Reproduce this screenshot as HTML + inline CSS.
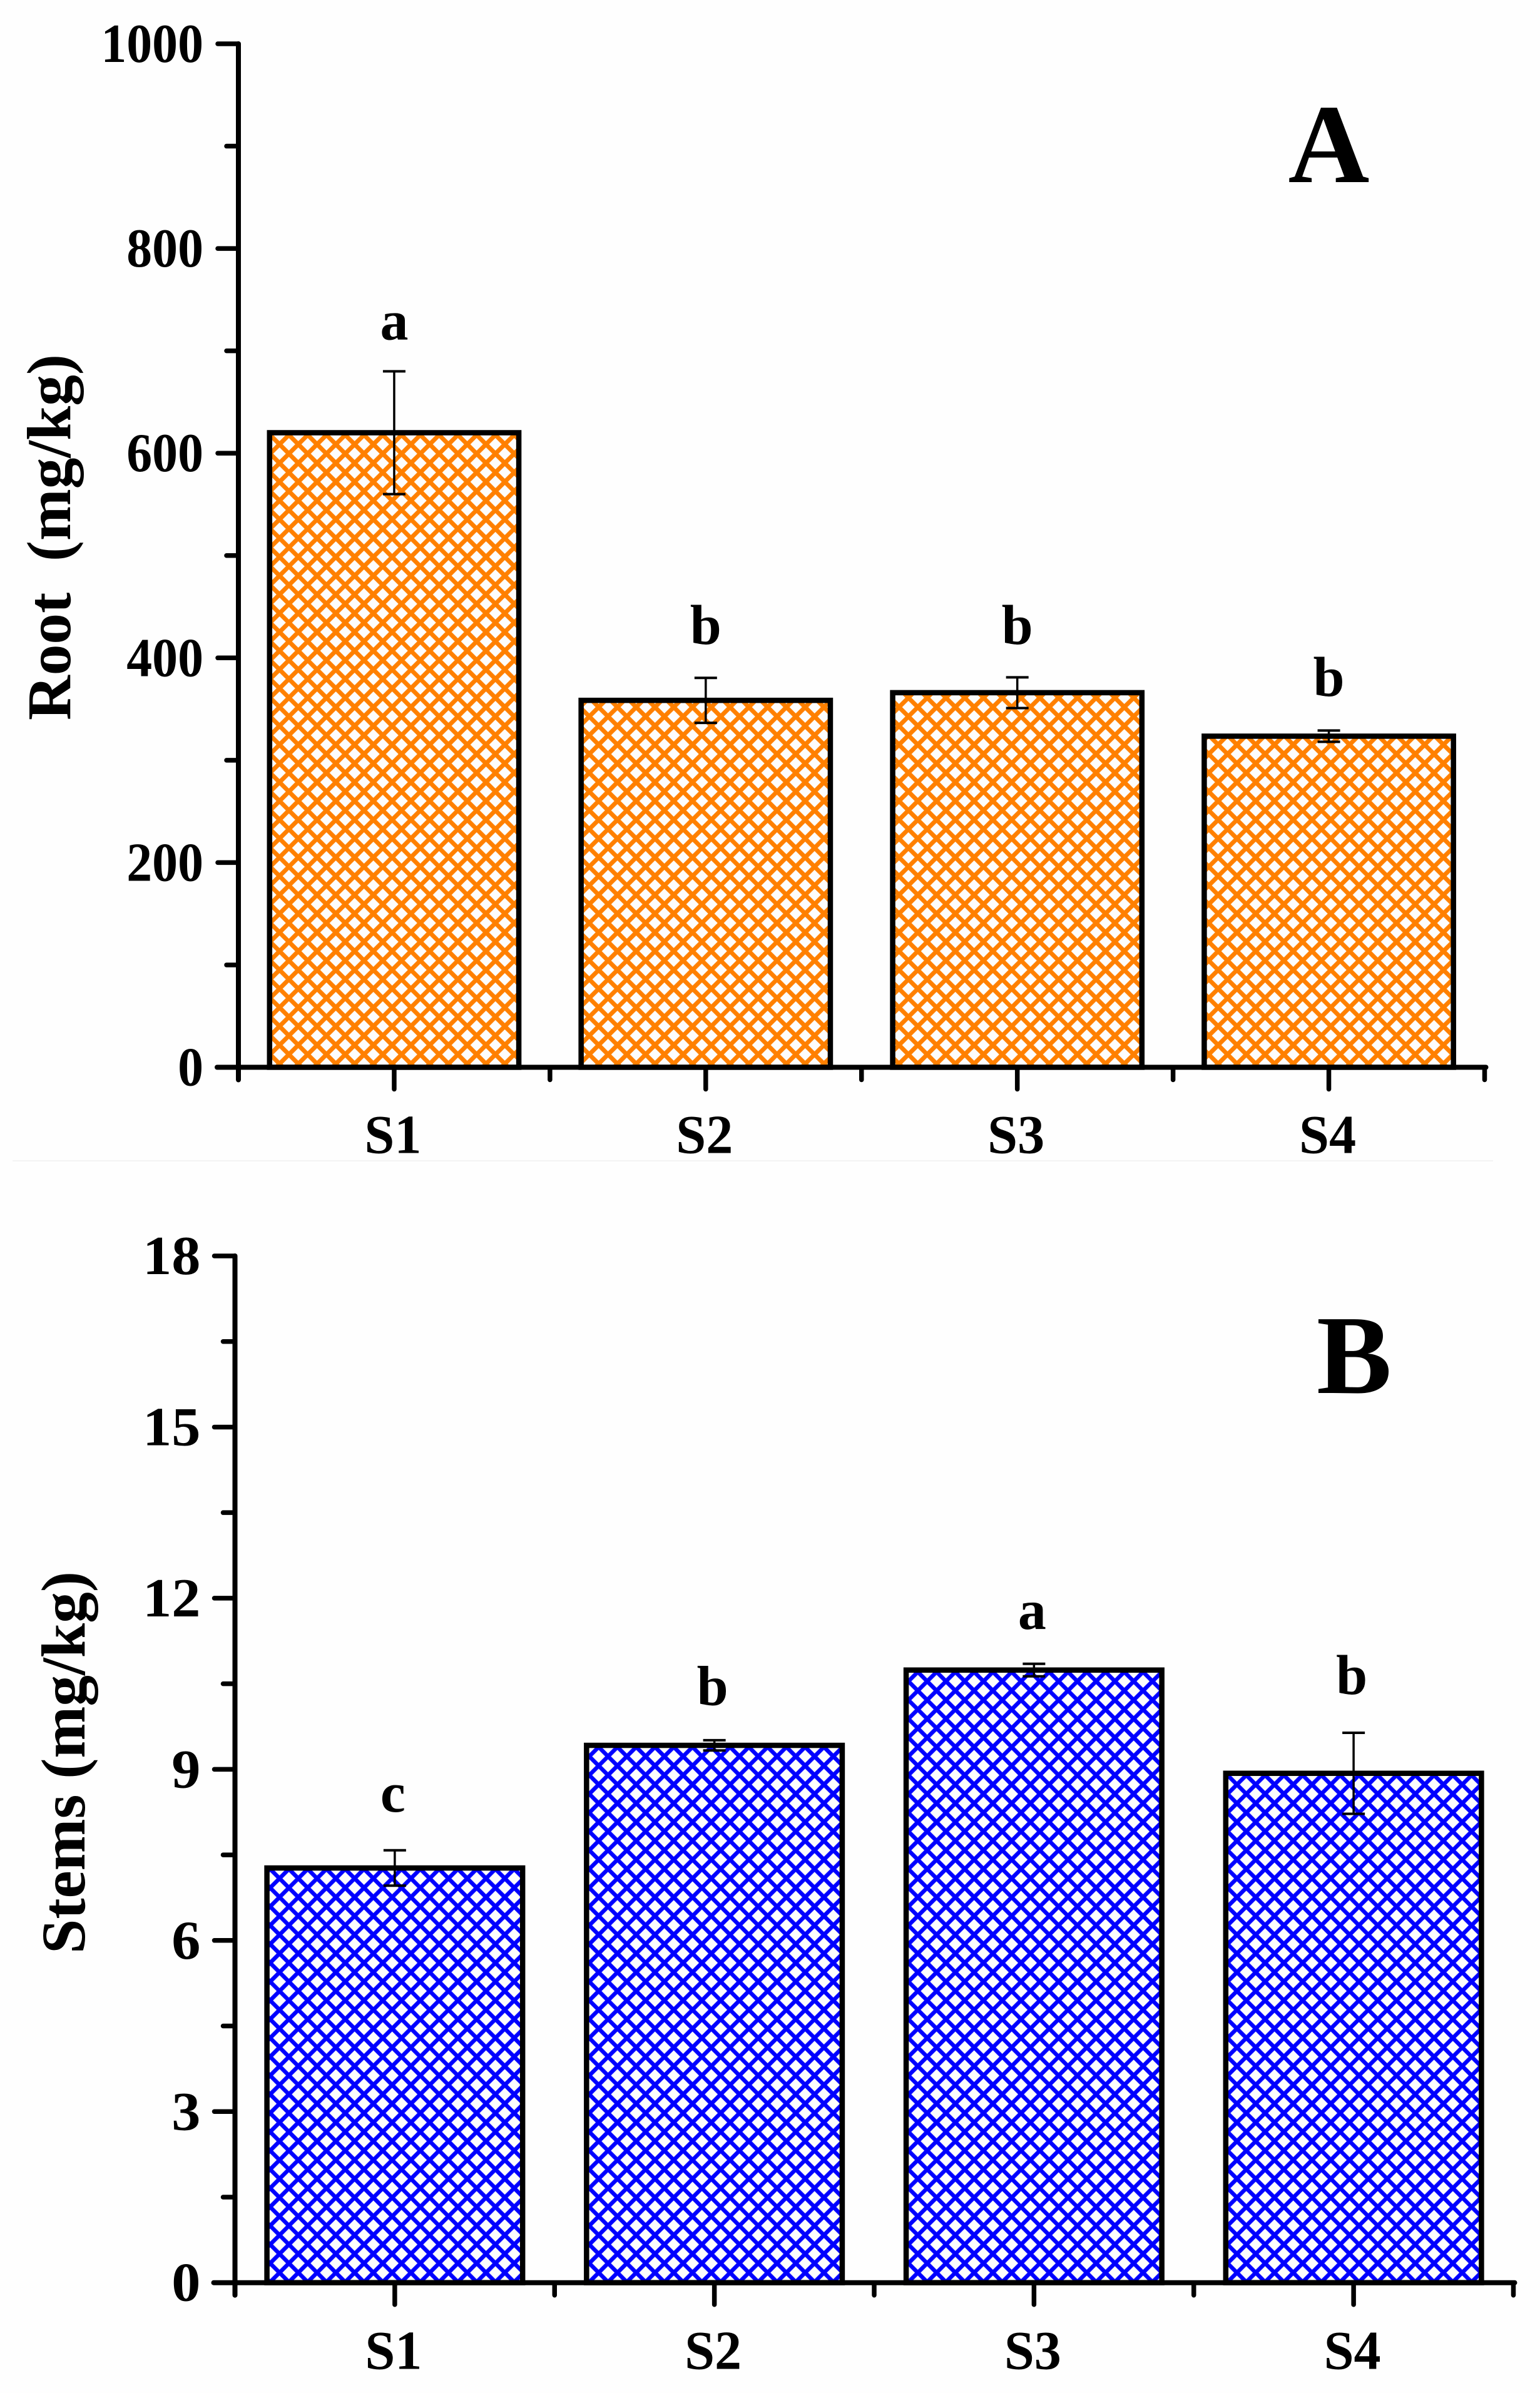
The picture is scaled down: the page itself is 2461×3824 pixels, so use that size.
<!DOCTYPE html>
<html lang="en">
<head>
<meta charset="utf-8">
<title>Root and stems concentration bar charts</title>
<style>
html,body{margin:0;padding:0;background:#fefefe}
svg{display:block}
text{font-family:"Liberation Serif",serif;font-weight:bold;fill:#000}
</style>
</head>
<body>
<svg id="figure" xmlns="http://www.w3.org/2000/svg" width="2461" height="3824" viewBox="0 0 2461 3824">
  <defs>
    <pattern id="hatch-orange" patternUnits="userSpaceOnUse" x="506.7" y="695" width="30" height="30">
      <rect width="30" height="30" fill="#fdfdfd"/>
      <path d="M-5 20L20 -5M10 35L35 10M-5 10L20 35M10 -5L35 20" stroke="#ff8000" stroke-width="7" fill="none"/>
    </pattern>
    <pattern id="hatch-blue" patternUnits="userSpaceOnUse" x="566.7" y="2986.7" width="30" height="30">
      <rect width="30" height="30" fill="#fdfdfd"/>
      <path d="M-5 20L20 -5M10 35L35 10M-5 10L20 35M10 -5L35 20" stroke="#0000ff" stroke-width="6.5" fill="none"/>
    </pattern>
  </defs>
  <rect width="2461" height="3824" fill="#fefefe"/>
  <rect x="20" y="1854" width="2366" height="2" fill="#f3f3f3"/>
  <g id="panel-a"></g>
  <g id="panel-b"></g>
</svg>
<script>
const categories = ['S1', 'S2', 'S3', 'S4'];

const rootValues = [620, 358.5, 366, 323.5];
const rootErrors = [60, 22, 15, 5.5];
const rootLetters = ['a', 'b', 'b', 'b'];
const rootLetterLevels = [711, 413.6, 413.6, 363];
const rootTicks = [0, 200, 400, 600, 800, 1000];
const rootTickLabels = ['0', '200', '400', '600', '800', '1000'];
const rootMinorTicks = [100, 300, 500, 700, 900];

const stemValues = [7.27, 9.42, 10.74, 8.93];
const stemErrors = [0.31, 0.09, 0.11, 0.71];
const stemLetters = ['c', 'b', 'a', 'b'];
const stemLetterLevels = [8.26, 10.13, 11.46, 10.32];
const stemTicks = [0, 3, 6, 9, 12, 15, 18];
const stemTickLabels = ['0', '3', '6', '9', '12', '15', '18'];
const stemMinorTicks = [1.5, 4.5, 7.5, 10.5, 13.5, 16.5];

const NS = 'http://www.w3.org/2000/svg';

function shape(parent, tag) {
  const el = document.createElementNS(NS, tag);
  parent.appendChild(el);
  return el;
}

function line(parent, x1, y1, x2, y2, width, cap) {
  const el = shape(parent, 'line');
  el.setAttribute('x1', x1);
  el.setAttribute('y1', y1);
  el.setAttribute('x2', x2);
  el.setAttribute('y2', y2);
  el.setAttribute('stroke', '#000');
  el.setAttribute('stroke-width', width);
  el.setAttribute('stroke-linecap', cap || 'round');
  return el;
}

function label(parent, str, x, y, size, anchor, sx) {
  const el = shape(parent, 'text');
  el.textContent = str;
  el.setAttribute('transform', 'translate(' + x + ' ' + y + ') scale(' + (sx || 1) + ' 1)');
  el.setAttribute('font-size', size);
  el.setAttribute('text-anchor', anchor);
  return el;
}

function drawPanel(root, opt) {
  const yOf = v => opt.y0 + (opt.yTop - opt.y0) * v / opt.yMax;
  const xUnit = (opt.xEnd - opt.xAxis) / categories.length;
  const xOf = i => opt.xAxis + xUnit * (i + 0.5);
  const barWidth = xUnit * 0.8;

  opt.values.forEach((v, i) => {
    const bar = shape(root, 'rect');
    
    
    bar.setAttribute('x', xOf(i) - barWidth / 2);
    bar.setAttribute('y', yOf(v));
    bar.setAttribute('width', barWidth);
    bar.setAttribute('height', opt.y0 - yOf(v));
    bar.setAttribute('fill', 'url(#' + opt.hatch + ')');
    bar.setAttribute('stroke', '#000');
    bar.setAttribute('stroke-width', 8.5);
  });

  opt.values.forEach((v, i) => {
    const group = shape(root, 'g');
    
    
    const top = yOf(v + opt.errors[i]);
    const bottom = yOf(v - opt.errors[i]);
    line(group, xOf(i), top, xOf(i), bottom, 3.5, 'butt');
    line(group, xOf(i) - 18, top, xOf(i) + 18, top, 4, 'butt');
    line(group, xOf(i) - 18, bottom, xOf(i) + 18, bottom, 4, 'butt');
  });

  opt.letters.forEach((s, i) => {
    const t = label(root, s, xOf(i) + opt.letterDx, yOf(opt.letterLevels[i]), 90, 'middle');
    
    
  });

  const yAxis = line(root, opt.xAxis, opt.yTop, opt.xAxis, opt.y0 + opt.xMinorLen, 8);
  
  

  const xAxis = line(root, opt.xAxis - 34, opt.y0, opt.xEnd + 2, opt.y0, 8);
  
  

  opt.ticks.forEach((v, i) => {
    const tick = line(root, opt.xAxis - 33, yOf(v), opt.xAxis, yOf(v), 7.5);
    
    
    const t = label(root, opt.tickLabels[i], opt.xAxis - opt.tickGap, yOf(v) + 29, 88, 'end', opt.tickScale);
    
    
  });

  opt.minorTicks.forEach(v => {
    const tick = line(root, opt.xAxis - 19, yOf(v), opt.xAxis, yOf(v), 7.5);
    
    
  });

  categories.forEach((c, i) => {
    const major = line(root, xOf(i), opt.y0, xOf(i), opt.y0 + opt.xMajorLen, 7.5);
    
    
    const minor = line(root, opt.xAxis + xUnit * (i + 1), opt.y0, opt.xAxis + xUnit * (i + 1), opt.y0 + opt.xMinorLen, 7.5);
    
    
    const t = label(root, c, xOf(i) - 2, opt.y0 + opt.xLabelDrop, 88, 'middle', 0.98);
    
    
  });

  const title = shape(root, 'text');
  title.textContent = opt.title;
  
  
  title.setAttribute('transform', 'translate(' + opt.titleX + ' ' + opt.titleY + ') rotate(-90)');
  title.setAttribute('font-size', 100);
  title.setAttribute('xml:space', 'preserve');
  title.setAttribute('style', 'white-space:pre');
  title.setAttribute('textLength', opt.titleLen);
  title.setAttribute('lengthAdjust', 'spacingAndGlyphs');

  const mark = label(root, opt.mark, opt.markX, opt.markY, 180, 'middle');
  
  
}

drawPanel(document.getElementById('panel-a'), {
  key: 'root', hatch: 'hatch-orange',
  values: rootValues, errors: rootErrors, letters: rootLetters, letterLevels: rootLetterLevels,
  ticks: rootTicks, tickLabels: rootTickLabels, minorTicks: rootMinorTicks, yMax: 1000,
  xAxis: 381, xEnd: 2372.5, y0: 1705.5, yTop: 70,
  xMajorLen: 35, xMinorLen: 20, xLabelDrop: 137,
  tickGap: 56, tickScale: 0.93, letterDx: 0,
  title: 'Root  (mg/kg)', titleX: 112, titleY: 1151, titleLen: 585,
  mark: 'A', markX: 2123.5, markY: 291
});

drawPanel(document.getElementById('panel-b'), {
  key: 'stems', hatch: 'hatch-blue',
  values: stemValues, errors: stemErrors, letters: stemLetters, letterLevels: stemLetterLevels,
  ticks: stemTicks, tickLabels: stemTickLabels, minorTicks: stemMinorTicks, yMax: 18,
  xAxis: 375.5, xEnd: 2418.5, y0: 3647.7, yTop: 2007,
  xMajorLen: 35, xMinorLen: 20, xLabelDrop: 138,
  tickGap: 55, tickScale: 1.05, letterDx: -3,
  title: 'Stems (mg/kg)', titleX: 135, titleY: 3122, titleLen: 611,
  mark: 'B', markX: 2164, markY: 2226
});
</script>
</body>
</html>
